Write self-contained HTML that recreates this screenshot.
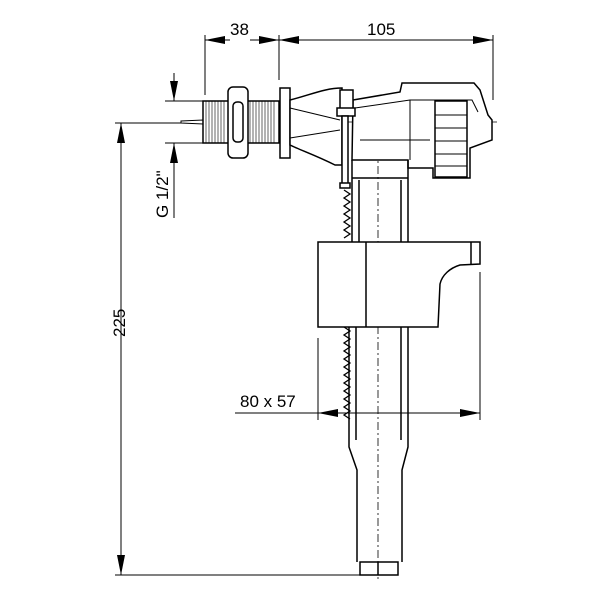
<!DOCTYPE html>
<html><head><style>body{margin:0;background:#fff}svg{display:block}</style></head><body>
<svg width="600" height="600" viewBox="0 0 600 600" xmlns="http://www.w3.org/2000/svg" font-family="Liberation Sans, Arial, sans-serif">
<defs>
<marker id="a" viewBox="0 0 20 8" refX="20" refY="4" markerWidth="20" markerHeight="8" markerUnits="userSpaceOnUse" orient="auto"><path d="M0,0L20,4L0,8z" fill="#000"/></marker>
</defs>
<g stroke="#000" stroke-width="1" fill="none">
<!-- top dims -->
<line x1="205" y1="35" x2="205" y2="95"/>
<line x1="279" y1="35" x2="279" y2="80"/>
<line x1="493" y1="35" x2="493" y2="100"/>
<line x1="230" y1="40" x2="205" y2="40" marker-end="url(#a)"/>
<line x1="250" y1="40" x2="279" y2="40" marker-end="url(#a)"/>
<line x1="300" y1="40" x2="279" y2="40" marker-end="url(#a)"/>
<line x1="300" y1="40" x2="470" y2="40"/>
<line x1="470" y1="40" x2="493" y2="40" marker-end="url(#a)"/>
<!-- G 1/2 -->
<line x1="165" y1="101" x2="203" y2="101"/>
<line x1="165" y1="143" x2="203" y2="143"/>
<line x1="174" y1="73" x2="174" y2="101" marker-end="url(#a)"/>
<line x1="174" y1="218" x2="174" y2="143" marker-end="url(#a)"/>
<!-- 225 -->
<line x1="115" y1="123" x2="200" y2="123"/>
<line x1="115" y1="575" x2="365" y2="575"/>
<line x1="121" y1="300" x2="121" y2="123" marker-end="url(#a)"/>
<line x1="121" y1="300" x2="121" y2="575" marker-end="url(#a)"/>
<!-- 80x57 -->
<line x1="318" y1="338" x2="318" y2="420"/>
<line x1="480" y1="272" x2="480" y2="420"/>
<line x1="235" y1="413" x2="318" y2="413"/>
<line x1="345" y1="413" x2="318" y2="413" marker-end="url(#a)"/>
<line x1="345" y1="413" x2="480" y2="413" marker-end="url(#a)"/>
<!-- centerlines -->
<line x1="185" y1="122" x2="500" y2="122" stroke-dasharray="8,3,2,3" stroke-width="0.8"/>
<line x1="378" y1="150" x2="378" y2="580" stroke-dasharray="8,3,2,3" stroke-width="0.8"/>
</g>
<g stroke="#000" stroke-width="1.5" fill="#fff">
<!-- pin -->
<path d="M181,121L203,120L203,124L181,123z" stroke-width="1"/>
<!-- threads -->
<rect x="203" y="101" width="26" height="42"/>
<rect x="247" y="101" width="32" height="42"/>
<rect x="228" y="87" width="20" height="71" rx="5"/>
<rect x="233" y="102" width="10" height="40" rx="4"/>
<rect x="280" y="88" width="10" height="70"/>
<!-- cone body -->
<path d="M290,100 C310,95 325,88 342,88 L342,165 L335,165 C315,155 300,150 290,145z"/>
<path d="M290,108 L340,120 M290,138 L340,130" stroke-width="1"/>
<!-- housing -->
<path d="M353,100 L400,92 L402,83 L474,83 L480,90 L488,115 L492,120 L492,140 L470,148 L470,178 L433,178 L433,168 L408,168 L408,160 L352,160 z"/>
<path d="M355,108 L410,100 L472,100 L478,112 M410,100 L410,160 M360,140 L430,140" stroke-width="1"/>
<rect x="435" y="101" width="32" height="76"/>
<!-- rod top -->
<rect x="340" y="90" width="13" height="20"/>
<rect x="337" y="108" width="18" height="8"/>
<rect x="342" y="116" width="6" height="70"/>
<rect x="340" y="183" width="10" height="5"/>
<!-- upper tube -->
<path d="M352,160 L352,242 M408,160 L408,242 M359,180 L359,242 M401,180 L401,242 M352,178 L408,178" fill="none"/>
<!-- spring -->
<path d="M344,190 l6,4 l-6,4 l6,4 l-6,4 l6,4 l-6,4 l6,4 l-6,4 l6,4 l-6,4 l6,4 l-6,4 M344,327 l6,4 l-6,4 l6,4 l-6,4 l6,4 l-6,4 l6,4 l-6,4 l6,4 l-6,4 l6,4 l-6,4 l6,4 l-6,4 l6,4 l-6,4 l6,4 l-6,4 l6,4 l-6,4 l6,4 l-6,4 l6,4" fill="none" stroke-width="1.3"/>
<!-- float -->
<path d="M318,242 L480,242 L480,264 L460,265 C450,268 442,275 440,284 L438,327 L318,327 z"/>
<line x1="366" y1="242" x2="366" y2="327"/>
<line x1="471" y1="242" x2="471" y2="264"/>
<!-- lower tube -->
<path d="M349,327 L349,447 L357,470 L357,562 M408,327 L408,447 L402,470 L402,562 M356,327 L356,440 M401,327 L401,440" fill="none"/>
<rect x="360" y="562" width="38" height="13"/>
<line x1="378" y1="562" x2="378" y2="575"/>
</g>
<g stroke="#000" stroke-width="0.6">
<path d="M206,101v42M209,101v42M212,101v42M215,101v42M218,101v42M221,101v42M224,101v42M250,101v42M253,101v42M256,101v42M259,101v42M262,101v42M265,101v42M268,101v42M271,101v42M274,101v42"/>
<path d="M435,115h32M435,128h32M435,141h32M435,154h32M435,166h32" stroke-width="1"/>
</g>
<g font-size="17" fill="#000">
<text x="230" y="35">38</text>
<text x="367" y="35">105</text>
<text x="240" y="407">80 x 57</text>
<text transform="translate(125,337) rotate(-90)">225</text>
<text transform="translate(168,218) rotate(-90)">G 1/2"</text>
</g>
</svg>
</body></html>
